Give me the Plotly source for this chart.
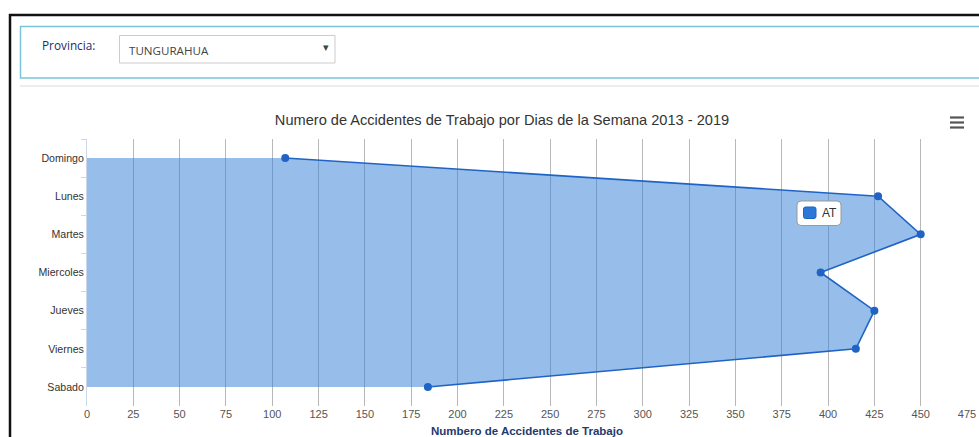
import plotly.graph_objects as go

# ---- data ----
dias = ["Domingo", "Lunes", "Martes", "Miercoles", "Jueves", "Viernes", "Sabado"]
accidentes = [107, 427, 450, 396, 425, 415, 184]
serie_nombre = "AT"
x_ticks = list(range(0, 476, 25))

W, H = 979, 437
L, T = 87, 139
R = W - 967
B = H - 406
PW, PH = W - L - R, H - T - B


def px(x):  # page x -> paper
    return (x - L) / PW


def py(y):  # page y -> paper
    return 1 - (y - T) / PH


fig = go.Figure()
fig.add_trace(go.Scatter(
    x=accidentes, y=dias, name=serie_nombre,
    mode="lines+markers", fill="tozerox",
    fillcolor="rgba(47,126,216,0.5)",
    line=dict(color="#1f64c4", width=1.6),
    marker=dict(color="#1f64c4", size=8),
    showlegend=False, hoverinfo="x+y",
))

FONT = "Liberation Sans"
shapes = []
ann = []

# page frame (black)
shapes.append(dict(type="line", xref="paper", yref="paper", x0=px(9), x1=px(985), y0=py(15), y1=py(15),
                   line=dict(color="#111", width=2.5)))
shapes.append(dict(type="line", xref="paper", yref="paper", x0=px(10), x1=px(10), y0=py(14), y1=py(445),
                   line=dict(color="#111", width=2.5)))
# filter panel (cyan border)
shapes.append(dict(type="rect", xref="paper", yref="paper", x0=px(20.5), x1=px(995), y0=py(26.5), y1=py(78),
                   line=dict(color="#79c6d8", width=1.5), fillcolor="white", layer="below"))
# separator line
shapes.append(dict(type="line", xref="paper", yref="paper", x0=px(20), x1=px(985), y0=py(86), y1=py(86),
                   line=dict(color="#ececec", width=2)))
# dropdown box
shapes.append(dict(type="rect", xref="paper", yref="paper", x0=px(119.5), x1=px(335), y0=py(35.5), y1=py(63),
                   line=dict(color="#cccccc", width=1), fillcolor="white"))
ann.append(dict(text="Provincia:", xref="paper", yref="paper", x=px(40), y=py(45), xanchor="left", yanchor="middle",
                showarrow=False, font=dict(family="Open Sans", size=11.8, color="#1e2b6e")))
ann.append(dict(text="TUNGURAHUA", xref="paper", yref="paper", x=px(127), y=py(50), xanchor="left", yanchor="middle",
                showarrow=False, font=dict(family="Open Sans", size=11.6, color="#444")))
ann.append(dict(text="▾", xref="paper", yref="paper", x=px(326), y=py(47), xanchor="center", yanchor="middle",
                showarrow=False, font=dict(family="DejaVu Sans", size=11, color="#444")))

# hamburger menu
for yy in (117.5, 122.5, 127.5):
    shapes.append(dict(type="line", xref="paper", yref="paper", x0=px(950), x1=px(964), y0=py(yy), y1=py(yy),
                       line=dict(color="#555", width=2.2)))


# legend (drawn)
def rrect(x0, y0, x1, y1, r):
    return (f"M {px(x0+r)},{py(y0)} L {px(x1-r)},{py(y0)} Q {px(x1)},{py(y0)} {px(x1)},{py(y0+r)} "
            f"L {px(x1)},{py(y1-r)} Q {px(x1)},{py(y1)} {px(x1-r)},{py(y1)} "
            f"L {px(x0+r)},{py(y1)} Q {px(x0)},{py(y1)} {px(x0)},{py(y1-r)} "
            f"L {px(x0)},{py(y0+r)} Q {px(x0)},{py(y0)} {px(x0+r)},{py(y0)} Z")


shapes.append(dict(type="path", xref="paper", yref="paper", path=rrect(797, 201, 841, 225.5, 4),
                   line=dict(color="#999999", width=1), fillcolor="white"))
shapes.append(dict(type="path", xref="paper", yref="paper", path=rrect(803.5, 207, 816, 218.5, 2),
                   line=dict(color="#1f64c4", width=1), fillcolor="#2b78d6"))
ann.append(dict(text=serie_nombre, xref="paper", yref="paper", x=px(819.5), y=py(213), xanchor="left",
                yanchor="middle", showarrow=False, font=dict(family=FONT, size=12, color="#333")))

fig.update_layout(
    width=W, height=H,
    margin=dict(l=L, r=R, t=T, b=B, autoexpand=False),
    paper_bgcolor="white", plot_bgcolor="white",
    template="none",
    title=dict(text="Numero de Accidentes de Trabajo por Dias de la Semana 2013 - 2019",
               x=px(502), xref="paper", xanchor="center", y=1 - 120 / H, yanchor="middle",
               font=dict(family=FONT, size=14.6, color="#333")),
    shapes=shapes, annotations=ann,
    xaxis=dict(range=[0, 475], tickvals=x_ticks, showgrid=True, gridcolor="#b8b8b8", gridwidth=1,
               zeroline=False, showline=False, ticks="", automargin=False, ticklabeloverflow="allow",
               tickfont=dict(family=FONT, size=11, color="#555"),
               title=dict(text="<b>Numbero de Accidentes de Trabajo</b>", standoff=7,
                          font=dict(family=FONT, size=11.5, color="#1f3a6e"))),
    yaxis=dict(type="category", categoryorder="array", categoryarray=dias,
               range=[6.5, -0.5], autorange=False, showgrid=False, zeroline=False, showline=True,
               linecolor="#ccd6eb", linewidth=1, ticks="outside", tickson="boundaries", ticklen=5,
               tickcolor="#ccd6eb", automargin=False, tickfont=dict(family=FONT, size=10.6, color="#333")),
    font=dict(family=FONT),
)

fig.write_html(
    "out.html",
    config={"displayModeBar": False},
    post_script="document.body.style.margin='0';document.body.style.overflow='hidden';"
                "document.documentElement.style.overflow='hidden';",
)
